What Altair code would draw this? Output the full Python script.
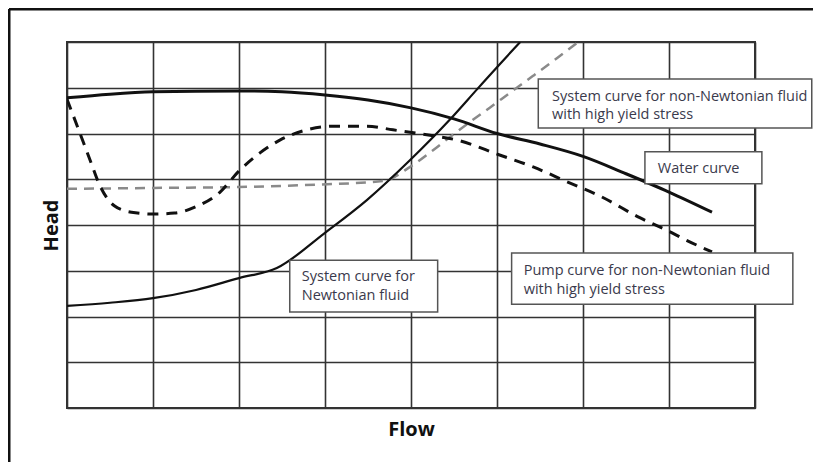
import altair as alt
import pandas as pd

# ---- data (grid units: 8 columns x 8 rows) ----
water_x = [0, 0.5, 1, 2, 2.5, 3, 3.5, 4, 4.5, 5, 5.5, 6, 6.5, 7, 7.5]
water_y = [6.78, 6.86, 6.91, 6.93, 6.91, 6.84, 6.73, 6.56, 6.32, 6.0, 5.77, 5.50, 5.12, 4.72, 4.28]

pump_x = [0, 0.15, 0.27, 0.38, 0.55, 0.75, 1.0, 1.25, 1.5, 1.78, 2.0, 2.24, 2.48, 2.79,
          3.09, 3.49, 3.79, 4.26, 4.53, 5.03, 5.42, 5.81, 6.2, 6.66, 6.98, 7.21, 7.5]
pump_y = [6.75, 6.01, 5.41, 4.87, 4.42, 4.28, 4.24, 4.26, 4.40, 4.72, 5.18, 5.57, 5.86, 6.08,
          6.16, 6.16, 6.08, 5.95, 5.86, 5.53, 5.27, 4.95, 4.63, 4.16, 3.88, 3.66, 3.41]

newt_x = [0, 0.5, 1, 1.5, 2, 2.44, 3, 3.49, 3.99, 4.45, 4.77, 5.0, 5.27]
newt_y = [2.23, 2.30, 2.40, 2.58, 2.84, 3.06, 3.83, 4.55, 5.42, 6.30, 6.97, 7.45, 8.0]

nonnewt_x = [0, 1, 2, 2.71, 3.67, 3.99, 4.26, 4.45, 4.72, 4.92, 5.15, 5.42, 5.70, 5.93]
nonnewt_y = [4.79, 4.81, 4.83, 4.87, 4.96, 5.27, 5.64, 5.92, 6.30, 6.57, 6.89, 7.26, 7.65, 7.98]

grid_values = [0, 1, 2, 3, 4, 5, 6, 7, 8]

# annotation boxes (grid units) and their text lines
box_labels = ["sys_nn", "water", "pump_nn", "sys_n"]
box_x1 = [5.48, 6.72, 5.17, 2.59]
box_x2 = [8.66, 8.08, 8.44, 4.31]
box_y1 = [7.19, 5.60, 3.39, 3.23]
box_y2 = [6.12, 4.90, 2.27, 2.10]

text_lines = ["System curve for non-Newtonian fluid", "with high yield stress",
              "Water curve",
              "Pump curve for non-Newtonian fluid", "with high yield stress",
              "System curve for", "Newtonian fluid"]
text_x = [5.64, 5.64, 6.87, 5.31, 5.31, 2.73, 2.73]
text_y = [6.80, 6.40, 5.22, 2.99, 2.58, 2.86, 2.44]

# ---- build tables ----
def series(xs, ys):
    return pd.DataFrame({"flow": xs, "head": ys, "order": range(len(xs))})

water = series(water_x, water_y)
pump = series(pump_x, pump_y)
newt = series(newt_x, newt_y)
nonnewt = series(nonnewt_x, nonnewt_y)
boxes = pd.DataFrame({"id": box_labels, "x1": box_x1, "x2": box_x2, "y1": box_y1, "y2": box_y2})
texts = pd.DataFrame({"t": text_lines, "x": text_x, "y": text_y})

xscale = alt.Scale(domain=[0, 8], nice=False, zero=False)
yscale = alt.Scale(domain=[0, 8], nice=False, zero=False)

xaxis = alt.Axis(values=grid_values, labels=False, ticks=False, domain=False,
                 grid=True, gridColor="#333333", gridWidth=1.6, gridOpacity=1,
                 title="Flow", titleFont="Open Sans", titleFontSize=20, titleFontWeight="bold",
                 titleColor="#111111", titlePadding=11)
yaxis = alt.Axis(values=grid_values, labels=False, ticks=False, domain=False,
                 grid=True, gridColor="#333333", gridWidth=1.6, gridOpacity=1,
                 title="Head", titleFont="Open Sans", titleFontSize=20, titleFontWeight="bold",
                 titleColor="#111111", titlePadding=6)

def line(df, color, width, dash=None):
    kw = dict(color=color, strokeWidth=width, interpolate="monotone", clip=True)
    if dash:
        kw["strokeDash"] = dash
    return alt.Chart(df).mark_line(**kw).encode(
        x=alt.X("flow:Q", scale=xscale, axis=xaxis),
        y=alt.Y("head:Q", scale=yscale, axis=yaxis),
        order="order:Q",
    )

l_water = line(water, "#111111", 3)
l_pump = line(pump, "#111111", 3, [11, 8])
l_newt = line(newt, "#111111", 2.2)
l_nonnewt = line(nonnewt, "#8a8a8a", 2.5, [10, 7])

rects = alt.Chart(boxes).mark_rect(fill="white", stroke="#555555", strokeWidth=1.5).encode(
    x=alt.X("x1:Q", scale=xscale), x2="x2:Q",
    y=alt.Y("y1:Q", scale=yscale), y2="y2:Q",
)

labels = alt.Chart(texts).mark_text(align="left", baseline="middle", font="Open Sans",
                                     fontSize=14.5, color="#3a3a4c").encode(
    x=alt.X("x:Q", scale=xscale), y=alt.Y("y:Q", scale=yscale), text="t:N",
)

frame_top = alt.Chart(pd.DataFrame({"a": [0]})).mark_rule(color="#111111", strokeWidth=3).encode(
    x=alt.value(-58), x2=alt.value(746), y=alt.value(-33))
frame_left = alt.Chart(pd.DataFrame({"a": [0]})).mark_rule(color="#111111", strokeWidth=3).encode(
    x=alt.value(-58), y=alt.value(-33), y2=alt.value(420))

chart = alt.layer(
    l_nonnewt, l_newt, l_water, l_pump, rects, labels, frame_top, frame_left
).properties(
    width=688, height=366,
    padding={"left": 59, "top": 34, "right": 58, "bottom": 54},
    autosize=alt.AutoSizeParams(type="none"),
    background="white",
).configure_view(stroke="#333333", strokeWidth=2)

chart.save("out.html", embed_options={"renderer": "svg", "actions": False})
